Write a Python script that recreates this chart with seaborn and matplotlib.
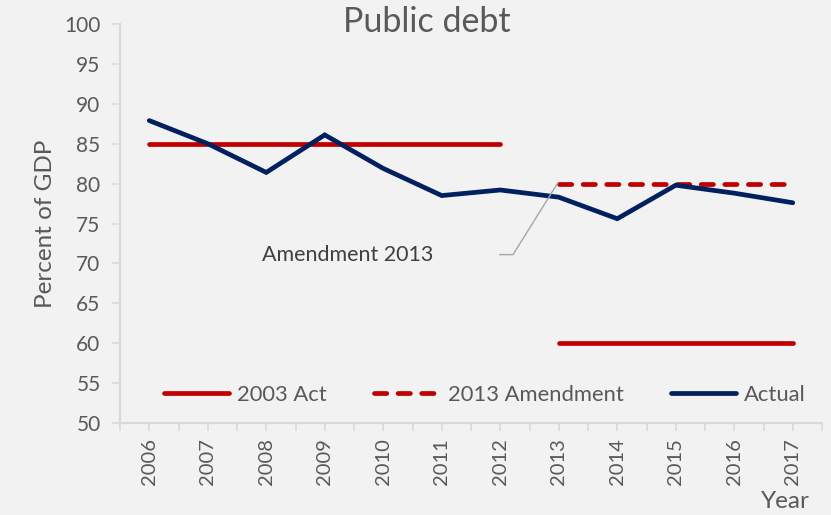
import matplotlib
matplotlib.use("Agg")
import matplotlib.pyplot as plt
import seaborn as sns
import numpy as np
import pandas as pd
from matplotlib.lines import Line2D

years = [2006, 2007, 2008, 2009, 2010, 2011, 2012, 2013, 2014, 2015, 2016, 2017]
actual = [87.9, 85.0, 81.4, 86.1, 81.9, 78.5, 79.2, 78.3, 75.6, 79.8, 78.8, 77.6]
act2003_early_years = [2006, 2007, 2008, 2009, 2010, 2011, 2012]
act2003_early = [85, 85, 85, 85, 85, 85, 85]
act2003_late_years = [2013, 2014, 2015, 2016, 2017]
act2003_late = [60, 60, 60, 60, 60]
amend2013_years = [2013, 2014, 2015, 2016, 2017]
amend2013 = [80, 80, 80, 80, 80]
y_ticks = list(range(50, 101, 5))

RED = "#c00000"
NAVY = "#002060"
BG = "#f2f2f2"
TXT = "#595959"
AX = "#d9d9d9"

sns.set_theme(style="white")
plt.rcParams['font.family'] = ['Lato', 'DejaVu Sans']

fig = plt.figure(figsize=(8.31, 5.15), dpi=100, facecolor=BG)
ax = fig.add_axes([120/831, 1-423/515, 702/831, 399/515])
ax.set_facecolor(BG)

idx = {y: i for i, y in enumerate(years)}
lw = 3.4
dash = (0, (2.6, 2.4))

sns.lineplot(x=[idx[y] for y in act2003_early_years], y=act2003_early, ax=ax,
             color=RED, lw=lw, solid_capstyle="round")
sns.lineplot(x=[idx[y] for y in act2003_late_years], y=act2003_late, ax=ax,
             color=RED, lw=lw, solid_capstyle="round")
sns.lineplot(x=[idx[y] for y in amend2013_years], y=amend2013, ax=ax,
             color=RED, lw=lw, linestyle=dash, dash_capstyle="round")
sns.lineplot(x=[idx[y] for y in years], y=actual, ax=ax,
             color=NAVY, lw=lw, solid_capstyle="round", solid_joinstyle="miter")

ax.set_xlim(-0.5, len(years) - 0.5)
ax.set_ylim(50, 100)
ax.set_yticks(y_ticks)
ax.set_yticklabels([str(v) for v in y_ticks], color=TXT, fontsize=15)
ax.set_xticks(range(len(years)))
ax.set_xticklabels([str(y) for y in years], rotation=90, color=TXT, fontsize=14.5)
ax.set_xticks(np.arange(-0.5, len(years), 1.0), minor=True)
ax.tick_params(axis="both", which="both", direction="out", length=6, width=1.2,
               color=AX, left=True, bottom=True)
ax.tick_params(axis="y", which="major", pad=8)
ax.tick_params(axis="x", which="major", pad=5)

for s in ["top", "right"]:
    ax.spines[s].set_visible(False)
for s in ["left", "bottom"]:
    ax.spines[s].set_color(AX)
    ax.spines[s].set_linewidth(1.5)

ax.set_ylabel("Percent of GDP", color=TXT, fontsize=17.5, labelpad=6)
ax.set_xlabel("")
fig.text(785/831, 1-502/515, "Year", color=TXT, fontsize=17.5, ha="center", va="center")
fig.text(427/831, 1-22/515, "Public debt", color=TXT, fontsize=24.5, ha="center", va="center")

ax.text(3.40, 71.1, "Amendment 2013", fontsize=15.5, color="#404040",
        ha="center", va="center")
ax.annotate("", xy=(6.985, 80.1), xytext=(5.99, 71.1),
            arrowprops=dict(arrowstyle="-", color="#a6a6a6", lw=1,
                            connectionstyle="angle,angleA=0,angleB=58,rad=0",
                            shrinkA=0, shrinkB=0))

handles = [
    Line2D([], [], color=RED, lw=lw, solid_capstyle="round"),
    Line2D([], [], color=RED, lw=lw, linestyle=dash, dash_capstyle="round"),
    Line2D([], [], color=NAVY, lw=lw, solid_capstyle="round"),
]
labels = ["2003 Act", "2013 Amendment", "Actual"]
leg = ax.legend(handles, labels, loc="center left", bbox_to_anchor=(0.034, 0.07),
                ncol=3, frameon=False, fontsize=15.8, handlelength=3.0,
                handletextpad=0.35, columnspacing=2.15, labelcolor=TXT)

fig.savefig("out.png", dpi=100, facecolor=BG)
